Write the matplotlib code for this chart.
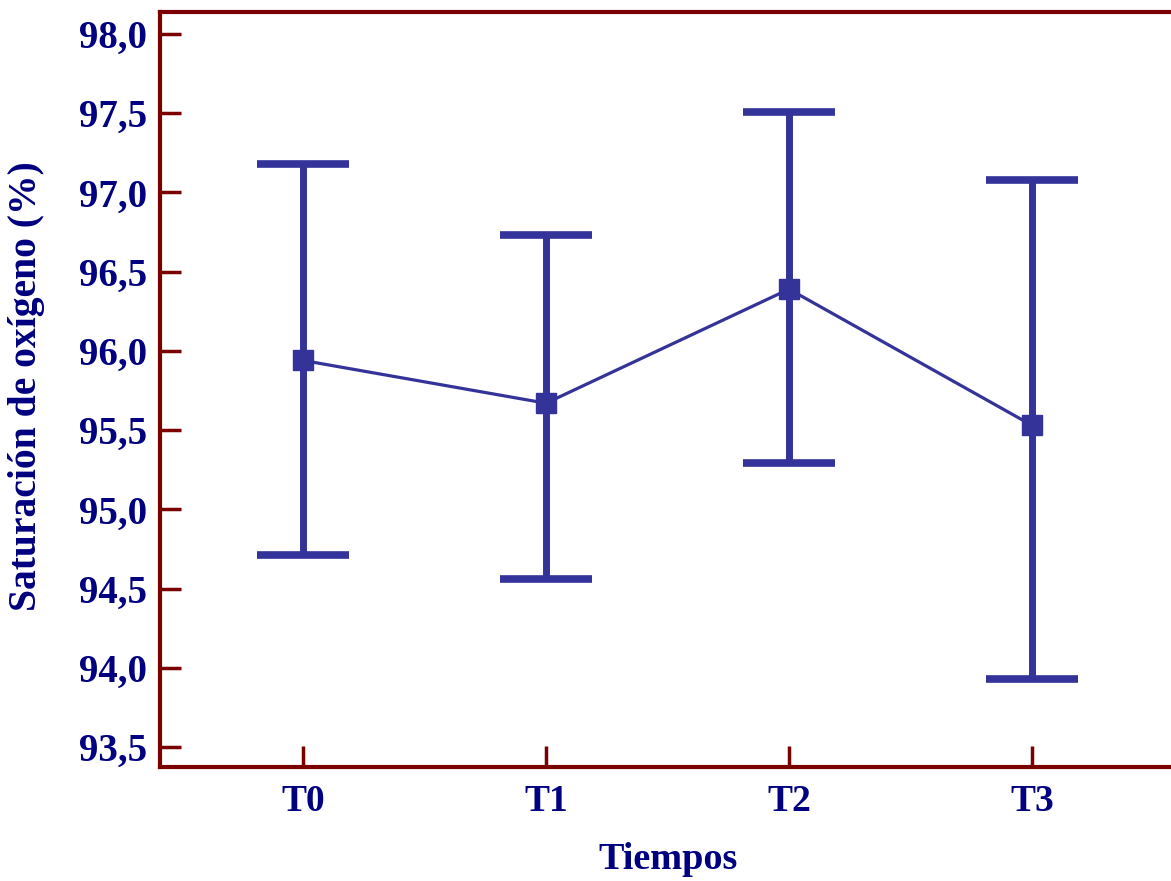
import matplotlib
matplotlib.use("Agg")
import matplotlib.pyplot as plt
import numpy as np

categories = ["T0", "T1", "T2", "T3"]
means = [95.94, 95.67, 96.39, 95.53]
upper = [97.18, 96.73, 97.51, 97.08]
lower = [94.71, 94.56, 95.29, 93.93]
yticks = [93.5, 94.0, 94.5, 95.0, 95.5, 96.0, 96.5, 97.0, 97.5, 98.0]
ytick_labels = [f"{v:.1f}".replace(".", ",") for v in yticks]

plt.rcParams['font.family'] = ['Liberation Serif', 'DejaVu Serif']

W, H = 1171, 881
fig = plt.figure(figsize=(W / 100, H / 100), dpi=100)
ax = fig.add_axes([160 / W, 1 - 767 / H, (1175 - 160) / W, (767 - 12) / H])

data_color = "#333399"
text_color = "#000080"
spine_color = "#7a0000"

x = np.arange(len(categories))
m = np.array(means)
yerr = np.vstack([m - np.array(lower), np.array(upper) - m])
ax.errorbar(x, m, yerr=yerr, fmt='s-', color=data_color, ecolor=data_color,
            elinewidth=5, capsize=33, capthick=5.5, markersize=15, linewidth=2.3,
            zorder=3)

ax.set_xlim(-0.588, 3.588)
ax.set_ylim(93.374, 98.139)
ax.set_xticks(x)
ax.set_xticklabels(categories)
ax.set_yticks(yticks)
ax.set_yticklabels(ytick_labels)

for side in ["left", "bottom", "top"]:
    ax.spines[side].set_color(spine_color)
    ax.spines[side].set_linewidth(3)
ax.spines["right"].set_visible(False)

ax.tick_params(axis='both', direction='in', color=spine_color, width=2.5,
               labelcolor=text_color)
ax.tick_params(axis='y', length=15, pad=9, labelsize=28)
ax.tick_params(axis='x', length=15, pad=12, labelsize=27)
for lbl in ax.get_xticklabels() + ax.get_yticklabels():
    lbl.set_fontweight('bold')

ax.set_xlabel("Tiempos", fontsize=27.5, fontweight='bold', color=text_color)
ax.set_ylabel("Saturación de oxígeno (%)", fontsize=28.5, fontweight='bold', color=text_color)
ax.yaxis.set_label_coords(-115 / (1175 - 160), (767 - 386) / (767 - 12))
ax.xaxis.set_label_coords((668 - 160) / (1175 - 160), -(842 - 767) / (767 - 12))

fig.savefig("out.png", dpi=100)
